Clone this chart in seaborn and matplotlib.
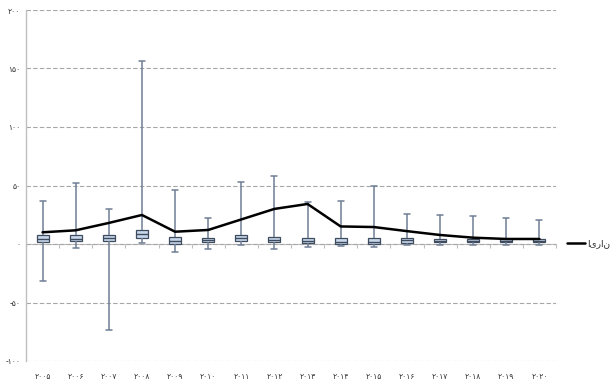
import numpy as np
import pandas as pd
import matplotlib
matplotlib.use("Agg")
import matplotlib.pyplot as plt
import seaborn as sns

years = ["۲۰۰۵", "۲۰۰۶", "۲۰۰۷", "۲۰۰۸", "۲۰۰۹", "۲۰۱۰", "۲۰۱۱", "۲۰۱۲",
         "۲۰۱۳", "۲۰۱۴", "۲۰۱۵", "۲۰۱۶", "۲۰۱۷", "۲۰۱۸", "۲۰۱۹", "۲۰۲۰"]
mins = [-32, -3, -73.5, 0.6, -7, -4.3, -1, -4.3, -2.3, -2, -2.8, -1.1, -1, -1, -1, -1]
q1s = [1.5, 2.3, 2.3, 4.8, 0, 1.5, 2.8, 2, 0.9, 0.3, 0.3, 1.1, 1.3, 1.3, 1.3, 1.3]
medians = [4, 4.5, 4.8, 8.5, 2.6, 3.4, 5.4, 3.8, 2.6, 2.1, 1.7, 3, 2.9, 2.9, 2.9, 2.9]
q3s = [7.7, 7.7, 7.7, 11.7, 6.3, 5.4, 7.7, 6, 5.4, 4.8, 4.8, 4.8, 4.6, 4.6, 4.6, 4.6]
maxs = [36.5, 52.5, 30, 156, 46, 22.6, 52.7, 58.4, 36.2, 36.8, 49.6, 25.5, 24.5, 23.9, 22.2, 20.5]
iran = [10, 11.7, 18, 24.8, 10.5, 12, 21, 30, 34.2, 15, 14.5, 11, 7.7, 5.4, 4.3, 4.3]
series_label = "ایران"
ytick_vals = [-100, -50, 0, 50, 100, 150, 200]
ytick_labels = ["-۱۰۰", "-۵۰", "۰", "۵۰", "۱۰۰", "۱۵۰", "۲۰۰"]

rows = []
for i, y in enumerate(years):
    for v in (mins[i], q1s[i], medians[i], q3s[i], maxs[i]):
        rows.append({"year": y, "value": v})
df = pd.DataFrame(rows)
line_df = pd.DataFrame({"year": years, "value": iran})

sns.set_style("white")
plt.rcParams["font.family"] = ["DejaVu Sans"]

fig = plt.figure(figsize=(6.1, 3.85), dpi=100)
ax = fig.add_axes([26 / 610, 24 / 385, 530 / 610, 351 / 385])

sns.boxplot(data=df, x="year", y="value", ax=ax, whis=(0, 100), width=0.36,
            color="#c3d6ee", linecolor="#3e4b5e", linewidth=0.9, fliersize=0,
            whiskerprops={"color": "#6f7f96", "linewidth": 1.1},
            capprops={"color": "#6f7f96", "linewidth": 1.1},
            medianprops={"color": "#3e4b5e", "linewidth": 1.0}, zorder=3)
sns.lineplot(data=line_df, x="year", y="value", ax=ax, color="black",
             linewidth=1.8, label=series_label, zorder=4, sort=False)

ax.set_xlim(-0.5, len(years) - 0.5)
ax.set_ylim(-100, 200)
ax.set_yticks(ytick_vals)
ax.set_yticklabels(ytick_labels)
ax.yaxis.grid(True, linestyle=(0, (4, 2)), color="#a6a6a6", linewidth=0.8)
ax.set_axisbelow(True)
ax.set_xlabel("")
ax.set_ylabel("")
for s in ["top", "right", "bottom"]:
    ax.spines[s].set_visible(False)
ax.spines["left"].set_color("#bfbfbf")
ax.spines["left"].set_linewidth(1.0)
ax.tick_params(axis="y", labelsize=5.5, colors="#333333", length=2, color="#bfbfbf", pad=2)
ax.tick_params(axis="x", labelsize=5.5, colors="#333333", length=0, pad=8)

# zero axis line with category boundary ticks
sec = ax.secondary_xaxis(1 / 3)
sec.set_xticks(np.arange(-0.5, len(years), 1.0))
sec.tick_params(axis="x", direction="out", length=3, color="#bfbfbf",
                labelbottom=False, labeltop=False, bottom=True, top=False)
for s in sec.spines.values():
    s.set_visible(False)
sec.spines["bottom"].set_visible(True)
sec.spines["bottom"].set_color("#bfbfbf")

leg = ax.legend(loc="center left", bbox_to_anchor=(1.005, 0.335), frameon=False,
                fontsize=6.5, handlelength=2.0, handletextpad=0.3)

fig.savefig("out.png", dpi=100)
